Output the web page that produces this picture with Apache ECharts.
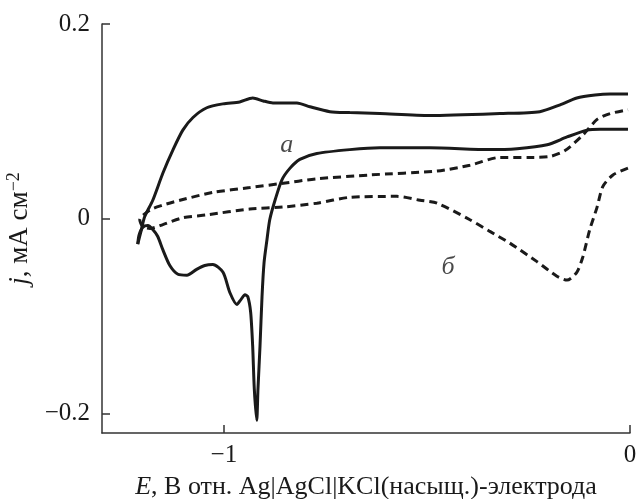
<!DOCTYPE html>
<html>
<head>
<meta charset="utf-8">
<script src="https://cdn.jsdelivr.net/npm/echarts@6/dist/echarts.min.js"></script>
<style>
  html, body { margin: 0; padding: 0; background: #fff; }
  #chart { width: 636px; height: 499px; }
</style>
</head>
<body>
<div id="chart"></div>
<script>
// кривая a (сплошная): анодная ветвь [E, j]
const curveAForward = [
  [-1.212, -0.026], [-1.204, -0.013], [-1.195, 0.002], [-1.175, 0.019],
  [-1.150, 0.047], [-1.125, 0.071], [-1.101, 0.091], [-1.076, 0.104],
  [-1.042, 0.114], [-1.002, 0.118], [-0.961, 0.120], [-0.929, 0.124],
  [-0.903, 0.121], [-0.879, 0.119], [-0.820, 0.119], [-0.788, 0.115],
  [-0.739, 0.110], [-0.690, 0.109], [-0.616, 0.108], [-0.493, 0.106],
  [-0.320, 0.108], [-0.222, 0.110], [-0.172, 0.117], [-0.131, 0.124],
  [-0.086, 0.127], [-0.049, 0.128], [-0.005, 0.128]
];
// кривая a: катодная ветвь
const curveAReverse = [
  [-0.005, 0.092], [-0.074, 0.092], [-0.106, 0.091], [-0.155, 0.084],
  [-0.204, 0.076], [-0.278, 0.072], [-0.345, 0.071], [-0.493, 0.073],
  [-0.616, 0.073], [-0.690, 0.071], [-0.771, 0.067], [-0.813, 0.061],
  [-0.837, 0.052], [-0.857, 0.040], [-0.874, 0.019], [-0.887, -0.001],
  [-0.894, -0.022], [-0.901, -0.045], [-0.906, -0.080], [-0.911, -0.131],
  [-0.916, -0.175], [-0.919, -0.207], [-0.925, -0.175], [-0.929, -0.131],
  [-0.934, -0.096], [-0.941, -0.080], [-0.948, -0.078], [-0.958, -0.083],
  [-0.968, -0.088], [-0.985, -0.076], [-1.002, -0.055], [-1.027, -0.047],
  [-1.047, -0.048], [-1.067, -0.052], [-1.091, -0.058], [-1.113, -0.057],
  [-1.133, -0.048], [-1.150, -0.032], [-1.163, -0.018], [-1.175, -0.011],
  [-1.187, -0.007], [-1.200, -0.009], [-1.209, -0.017], [-1.212, -0.026]
];
// кривая б (пунктир): нижняя ветвь, справа налево
const curveBLower = [
  [-0.005, 0.052], [-0.042, 0.045], [-0.067, 0.033], [-0.081, 0.012],
  [-0.099, -0.011], [-0.116, -0.039], [-0.131, -0.055], [-0.155, -0.063],
  [-0.180, -0.059], [-0.229, -0.044], [-0.296, -0.025], [-0.345, -0.013],
  [-0.394, -0.001], [-0.475, 0.016], [-0.517, 0.019], [-0.574, 0.023],
  [-0.690, 0.022], [-0.771, 0.016], [-0.855, 0.012], [-0.936, 0.010],
  [-1.042, 0.004], [-1.101, 0.001], [-1.150, -0.006], [-1.182, -0.010],
  [-1.200, -0.008], [-1.207, -0.001]
];
// кривая б: верхняя ветвь, слева направо
const curveBUpper = [
  [-1.207, -0.001], [-1.182, 0.009], [-1.150, 0.014], [-1.108, 0.019],
  [-1.027, 0.027], [-0.936, 0.032], [-0.862, 0.036], [-0.771, 0.041],
  [-0.640, 0.045], [-0.475, 0.049], [-0.394, 0.055], [-0.320, 0.063],
  [-0.246, 0.063], [-0.197, 0.064], [-0.160, 0.070], [-0.116, 0.086],
  [-0.081, 0.102], [-0.049, 0.108], [-0.005, 0.112]
];
const curveNames = ['a', 'б'];
const curveNameE = [-0.845, -0.448];
const curveNameJ = [0.076, -0.050];
const xTicks = [-1, 0];
const yTicks = [-0.2, 0, 0.2];

const fontFamily = '"Liberation Serif", "DejaVu Serif", serif';
const ink = '#1a1a1a';

function fmt(v) {
  return String(v).replace('-', '\u2212');
}

const chart = echarts.init(document.getElementById('chart'));
chart.setOption({
  animation: false,
  backgroundColor: '#fff',
  grid: { left: 102, right: 6, top: 24, bottom: 66, outerBoundsMode: 'none' },
  xAxis: {
    type: 'value',
    min: -1.3,
    max: 0,
    splitLine: { show: false },
    axisLine: { onZero: false, lineStyle: { color: '#333', width: 1.5 } },
    axisTick: { inside: true, length: 8, customValues: xTicks, lineStyle: { color: '#333', width: 1.5 } },
    axisLabel: {
      customValues: xTicks, formatter: fmt, margin: 10,
      color: ink, fontSize: 25, fontFamily: fontFamily
    },
    name: '{i|E}, В отн. Ag|AgCl|KCl(насыщ.)-электрода',
    nameLocation: 'middle',
    nameGap: 41,
    nameTextStyle: {
      color: ink, fontSize: 26, fontFamily: fontFamily,
      rich: { i: { fontStyle: 'italic', fontSize: 26, fontFamily: fontFamily, color: ink } }
    }
  },
  yAxis: {
    type: 'value',
    min: -0.22,
    max: 0.2,
    splitLine: { show: false },
    axisLine: { onZero: false, lineStyle: { color: '#333', width: 1.5 } },
    axisTick: { inside: true, length: 8, customValues: yTicks, lineStyle: { color: '#333', width: 1.5 } },
    axisLabel: {
      customValues: yTicks, formatter: fmt, margin: 12,
      color: ink, fontSize: 25, fontFamily: fontFamily
    },
    name: '{i|j}, мА см{sup|\u22122}',
    nameLocation: 'middle',
    nameGap: 66,
    nameRotate: 90,
    nameTextStyle: {
      color: ink, fontSize: 27, fontFamily: fontFamily,
      rich: {
        i: { fontStyle: 'italic', fontSize: 27, fontFamily: fontFamily, color: ink },
        sup: { fontSize: 18, fontFamily: fontFamily, color: ink, verticalAlign: 'top', padding: [0, 0, 12, 0] }
      }
    }
  },
  series: [
    {
      type: 'line', data: curveAForward, showSymbol: false, smooth: 0.25,
      lineStyle: { color: ink, width: 3 }
    },
    {
      type: 'line', data: curveAReverse, showSymbol: false, smooth: 0.25,
      lineStyle: { color: ink, width: 3 }
    },
    {
      type: 'line', data: curveBLower.concat(curveBUpper.slice(1)), showSymbol: false, smooth: 0.25,
      lineStyle: { color: ink, width: 3, type: [8, 5] }
    },
    {
      type: 'scatter', symbolSize: 0, silent: true,
      data: curveNames.map((n, i) => ({ name: n, value: [curveNameE[i], curveNameJ[i]] })),
      label: {
        show: true, position: 'inside', formatter: '{b}',
        color: ink, fontSize: 26, fontStyle: 'italic', fontFamily: fontFamily
      }
    }
  ]
});
</script>
</body>
</html>
